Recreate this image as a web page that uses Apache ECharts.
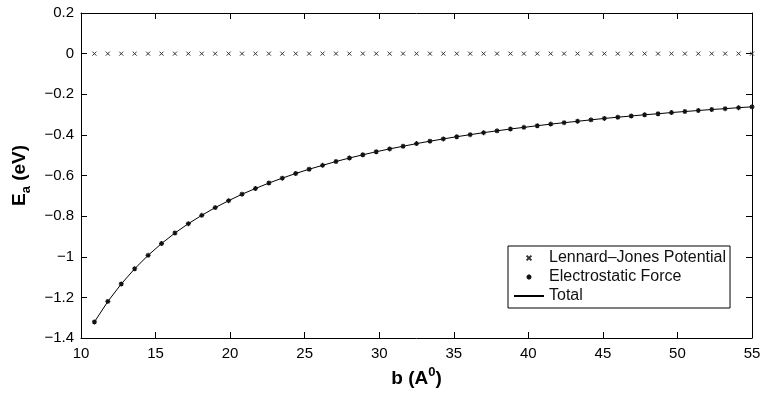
<!DOCTYPE html>
<html>
<head>
<meta charset="utf-8">
<script src="https://cdn.jsdelivr.net/npm/echarts@6/dist/echarts.min.js"></script>
<style>
  html, body { margin: 0; padding: 0; background: #fff; }
  #chart { width: 763px; height: 399px; }
</style>
</head>
<body>
<div id="chart"></div>
<script>
// separation b (A^0)
var bVals = [10.9, 11.8, 12.7, 13.6, 14.5, 15.4, 16.3, 17.2, 18.1, 19.0,
    19.9, 20.8, 21.7, 22.6, 23.5, 24.4, 25.3, 26.2, 27.1, 28.0,
    28.9, 29.8, 30.7, 31.6, 32.5, 33.4, 34.3, 35.2, 36.1, 37.0,
    37.9, 38.8, 39.7, 40.6, 41.5, 42.4, 43.3, 44.2, 45.1, 46.0,
    46.9, 47.8, 48.7, 49.6, 50.5, 51.4, 52.3, 53.2, 54.1, 55.0];

// Lennard-Jones part, ~0 everywhere
var ljVals = [0, 0, 0, 0, 0, 0, 0, 0, 0, 0,
    0, 0, 0, 0, 0, 0, 0, 0, 0, 0,
    0, 0, 0, 0, 0, 0, 0, 0, 0, 0,
    0, 0, 0, 0, 0, 0, 0, 0, 0, 0,
    0, 0, 0, 0, 0, 0, 0, 0, 0, 0];

// electrostatic part (eV)
var esVals = [-1.321, -1.220, -1.134, -1.059, -0.993, -0.935, -0.883, -0.837, -0.796, -0.758,
    -0.724, -0.692, -0.664, -0.637, -0.613, -0.590, -0.569, -0.550, -0.531, -0.514,
    -0.498, -0.483, -0.469, -0.456, -0.443, -0.431, -0.420, -0.409, -0.399, -0.389,
    -0.380, -0.371, -0.363, -0.355, -0.347, -0.340, -0.333, -0.326, -0.319, -0.313,
    -0.307, -0.301, -0.296, -0.290, -0.285, -0.280, -0.275, -0.271, -0.266, -0.262];

var totalVals = esVals.map(function (v, i) { return v + ljVals[i]; });

var seriesNames = ['Lennard\u2013Jones Potential', 'Electrostatic Force', 'Total'];

var FONT = 'Liberation Sans, Arial, Helvetica, sans-serif';
var CROSS = 'path://M0,0L10,10M10,0L0,10';
var STAR = 'path://M5,0L5,10M0,5L10,5M1.5,1.5L8.5,8.5M8.5,1.5L1.5,8.5';

function pairs(ys) {
    return bVals.map(function (x, i) { return [x, ys[i]]; });
}

var chart = echarts.init(document.getElementById('chart'));

var tickStyle = { inside: true, length: 6, lineStyle: { color: '#000', width: 1 } };
var lineStyle = { onZero: false, lineStyle: { color: '#000', width: 1 } };

var option = {
    backgroundColor: '#fff',
    animation: false,
    textStyle: { fontFamily: FONT },
    grid: { left: 81, right: 11, top: 13, bottom: 61, outerBoundsMode: 'none' },
    legend: {
        orient: 'vertical',
        left: 508,
        top: 246,
        padding: [4, 4, 4, 5],
        itemGap: 3,
        itemWidth: 30,
        itemHeight: 6,
        borderColor: '#000',
        borderWidth: 1,
        backgroundColor: '#fff',
        textStyle: { fontFamily: FONT, fontSize: 16, color: '#111', lineHeight: 16 },
        data: [
            { name: seriesNames[0] },
            { name: seriesNames[1] },
            { name: seriesNames[2], itemStyle: { opacity: 0 } }
        ]
    },
    xAxis: [{
        type: 'value',
        min: 10, max: 55, interval: 5,
        name: '{m|b (A}{sup|0}{m|)}',
        nameLocation: 'middle',
        nameGap: 26,
        nameTextStyle: {
            rich: {
                m: { fontFamily: FONT, fontSize: 19, fontWeight: 'bold', color: '#000', lineHeight: 26, verticalAlign: 'middle' },
                sup: { fontFamily: FONT, fontSize: 13, fontWeight: 'bold', color: '#000', lineHeight: 10, verticalAlign: 'top' }
            }
        },
        axisLine: lineStyle,
        axisTick: tickStyle,
        splitLine: { show: false },
        axisLabel: { fontFamily: FONT, fontSize: 15, color: '#000', margin: 8 }
    }, {
        type: 'value',
        position: 'top',
        min: 10, max: 55, interval: 5,
        axisLine: lineStyle,
        axisTick: tickStyle,
        splitLine: { show: false },
        axisLabel: { show: false }
    }],
    yAxis: [{
        type: 'value',
        min: -1.4, max: 0.2, interval: 0.2,
        name: '{m|E}{sub|a}{m| (eV)}',
        nameLocation: 'middle',
        nameGap: 48,
        nameTextStyle: {
            rich: {
                m: { fontFamily: FONT, fontSize: 19, fontWeight: 'bold', color: '#000', lineHeight: 26, verticalAlign: 'middle' },
                sub: { fontFamily: FONT, fontSize: 13, fontWeight: 'bold', color: '#000', lineHeight: 10, verticalAlign: 'bottom' }
            }
        },
        axisLine: lineStyle,
        axisTick: tickStyle,
        splitLine: { show: false },
        axisLabel: {
            fontFamily: FONT, fontSize: 15, color: '#000', margin: 7,
            formatter: function (v) { return String(Math.round(v * 10) / 10).replace('-', '\u2212'); }
        }
    }, {
        type: 'value',
        position: 'right',
        min: -1.4, max: 0.2, interval: 0.2,
        axisLine: lineStyle,
        axisTick: tickStyle,
        splitLine: { show: false },
        axisLabel: { show: false }
    }],
    series: [{
        name: seriesNames[0],
        type: 'line',
        data: pairs(ljVals),
        symbol: CROSS,
        symbolSize: 4,
        showAllSymbol: true,
        lineStyle: { width: 0, opacity: 0 },
        itemStyle: { color: '#333', borderColor: '#333', borderWidth: 1 },
        z: 3
    }, {
        name: seriesNames[1],
        type: 'line',
        data: pairs(esVals),
        symbol: STAR,
        symbolSize: 5,
        showAllSymbol: true,
        lineStyle: { width: 0, opacity: 0 },
        itemStyle: { color: '#111', borderColor: '#111', borderWidth: 1.2 },
        z: 4
    }, {
        name: seriesNames[2],
        type: 'line',
        data: pairs(totalVals),
        symbol: 'none',
        lineStyle: { color: '#000', width: 1 },
        itemStyle: { color: '#000' },
        z: 2
    }]
};

chart.setOption(option);
</script>
</body>
</html>
